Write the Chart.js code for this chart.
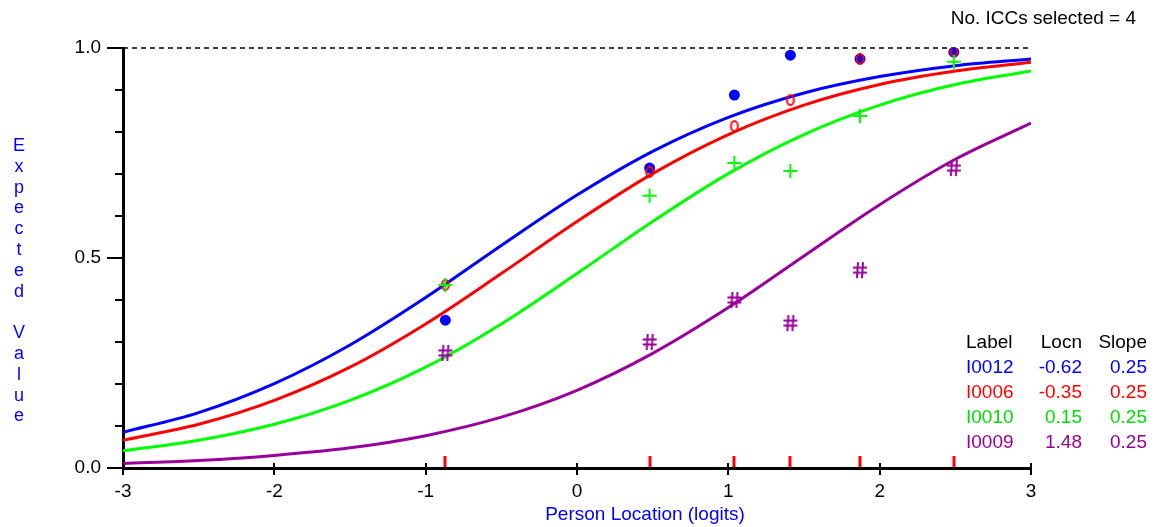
<!DOCTYPE html>
<html>
<head>
<meta charset="utf-8">
<script src="https://cdn.jsdelivr.net/npm/chart.js@4/dist/chart.umd.min.js"></script>
<style>
  html, body { margin: 0; padding: 0; background: #fff; }
  #iccChart { display: block; }
</style>
</head>
<body>
<canvas id="iccChart" width="1155" height="527"></canvas>
<script>
// Person locations (logits) where the curves were read
const thetaGrid = [-3, -2.5, -2, -1.5, -1, -0.5, 0, 0.5, 1, 1.5, 2, 2.5, 3];

// Expected value curves
const curveI0012 = [0.085, 0.132, 0.201, 0.293, 0.406, 0.530, 0.650, 0.754, 0.835, 0.893, 0.932, 0.958, 0.974];
const curveI0006 = [0.066, 0.104, 0.161, 0.240, 0.343, 0.463, 0.587, 0.701, 0.794, 0.864, 0.913, 0.945, 0.966];
const curveI0010 = [0.041, 0.066, 0.104, 0.161, 0.240, 0.343, 0.463, 0.587, 0.701, 0.794, 0.864, 0.913, 0.945];
const curveI0009 = [0.011, 0.018, 0.030, 0.048, 0.077, 0.121, 0.185, 0.273, 0.382, 0.505, 0.627, 0.735, 0.821];

// Class interval locations and observed means
const classLocations = [-0.87, 0.48, 1.04, 1.41, 1.87, 2.49];
const obsI0012 = [0.352, 0.714, 0.888, 0.983, 0.974, 0.990];
const obsI0006 = [0.436, 0.705, 0.814, 0.876, 0.974, 0.993];
const obsI0010 = [0.436, 0.648, 0.726, 0.707, 0.838, 0.967];
const obsI0009 = [0.274, 0.300, 0.400, 0.345, 0.471, 0.714];

// Legend table
const itemLabels = ['I0012', 'I0006', 'I0010', 'I0009'];
const itemLocns = ['-0.62', '-0.35', '0.15', '1.48'];
const itemSlopes = ['0.25', '0.25', '0.25', '0.25'];

const xTicks = [-3, -2, -1, 0, 1, 2, 3];
const yMajor = [0, 0.5, 1];

const BLUE = '#0000FF';
const RED = '#FF0000';
const GREEN = '#00FF00';
const GREEN_TXT = '#00DD00';
const PURPLE = '#990099';
const itemColors = [BLUE, RED, GREEN_TXT, PURPLE];
const FONT = "'Liberation Sans', Arial, sans-serif";

function pairs(xs, ys) {
    return xs.map((x, i) => ({ x: x, y: ys[i] }));
}

function glyph(w, h, draw) {
    const c = document.createElement('canvas');
    c.width = w;
    c.height = h;
    draw(c.getContext('2d'));
    return c;
}

// red "o" marker
const ringMark = glyph(12, 14, g => {
    g.strokeStyle = RED;
    g.lineWidth = 2;
    g.beginPath();
    g.ellipse(6, 7, 3.5, 5, 0, 0, Math.PI * 2);
    g.stroke();
});

// purple "#" marker
const hashMark = glyph(18, 20, g => {
    g.strokeStyle = PURPLE;
    g.lineWidth = 2;
    g.beginPath();
    g.moveTo(7, 2); g.lineTo(6, 18);
    g.moveTo(12, 2); g.lineTo(11, 18);
    g.moveTo(2, 7.5); g.lineTo(16, 7.5);
    g.moveTo(2, 12.5); g.lineTo(16, 12.5);
    g.stroke();
});

function curve(data, color, order) {
    return {
        type: 'line',
        data: pairs(thetaGrid, data),
        borderColor: color,
        borderWidth: 3,
        pointRadius: 0,
        fill: false,
        cubicInterpolationMode: 'monotone',
        order: order
    };
}

// axis decorations, legend table and labels
const decorPlugin = {
    id: 'decor',
    beforeDatasetsDraw(chart) {
        const ctx = chart.ctx;
        const x = chart.scales.x, y = chart.scales.y;
        const area = chart.chartArea;
        ctx.save();
        ctx.strokeStyle = '#000';
        ctx.lineWidth = 1.5;
        ctx.setLineDash([5, 4]);
        ctx.beginPath();
        ctx.moveTo(area.left, y.getPixelForValue(1));
        ctx.lineTo(area.right, y.getPixelForValue(1));
        ctx.stroke();
        ctx.restore();
    },
    afterDraw(chart) {
        const ctx = chart.ctx;
        const x = chart.scales.x, y = chart.scales.y;
        const area = chart.chartArea;
        ctx.save();

        // y ticks
        ctx.strokeStyle = '#000';
        ctx.lineWidth = 2;
        for (let i = 0; i <= 10; i++) {
            const v = i / 10;
            const py = Math.round(y.getPixelForValue(v));
            const len = (i % 5 === 0) ? 16 : 8;
            ctx.beginPath();
            ctx.moveTo(area.left - len, py);
            ctx.lineTo(area.left, py);
            ctx.stroke();
        }
        // x ticks
        xTicks.forEach(v => {
            const px = Math.round(x.getPixelForValue(v));
            ctx.beginPath();
            ctx.moveTo(px, area.bottom - 5);
            ctx.lineTo(px, area.bottom + 7);
            ctx.stroke();
        });
        // class interval markers
        ctx.strokeStyle = RED;
        ctx.lineWidth = 3;
        classLocations.forEach(v => {
            const px = Math.round(x.getPixelForValue(v));
            ctx.beginPath();
            ctx.moveTo(px, area.bottom - 12);
            ctx.lineTo(px, area.bottom - 1);
            ctx.stroke();
        });

        // y axis title, one letter per line
        ctx.fillStyle = BLUE;
        ctx.font = '18px ' + FONT;
        ctx.textAlign = 'center';
        ctx.textBaseline = 'middle';
        const title = 'Expected Value';
        for (let i = 0; i < title.length; i++) {
            ctx.fillText(title[i], 19, 146 + i * 20.8);
        }

        // x axis title
        ctx.font = '19px ' + FONT;
        ctx.fillText('Person Location (logits)', 645, 515);

        // top right note
        ctx.fillStyle = '#000';
        ctx.textAlign = 'right';
        ctx.fillText('No. ICCs selected = 4', 1136, 19);

        // legend table
        ctx.textAlign = 'left';
        ctx.fillText('Label', 966, 343);
        ctx.textAlign = 'right';
        ctx.fillText('Locn', 1082, 343);
        ctx.fillText('Slope', 1147, 343);
        itemLabels.forEach((lab, i) => {
            const ry = 368 + i * 25;
            ctx.fillStyle = itemColors[i];
            ctx.textAlign = 'left';
            ctx.fillText(lab, 966, ry);
            ctx.textAlign = 'right';
            ctx.fillText(itemLocns[i], 1082, ry);
            ctx.fillText(itemSlopes[i], 1147, ry);
        });
        ctx.restore();
    }
};

const ctx = document.getElementById('iccChart').getContext('2d');
const iccChart = new Chart(ctx, {
    type: 'scatter',
    data: {
        datasets: [
            curve(curveI0009, PURPLE, 8),
            curve(curveI0010, GREEN, 7),
            curve(curveI0006, RED, 6),
            curve(curveI0012, BLUE, 5),
            {
                data: pairs(classLocations, obsI0012),
                pointStyle: 'circle',
                pointRadius: 5.5,
                backgroundColor: BLUE,
                borderWidth: 0,
                order: 4
            },
            {
                data: pairs(classLocations, obsI0006),
                pointStyle: ringMark,
                order: 3
            },
            {
                data: pairs(classLocations, obsI0010),
                pointStyle: 'cross',
                pointRadius: 7,
                borderColor: GREEN,
                borderWidth: 2,
                order: 2
            },
            {
                data: pairs(classLocations, obsI0009),
                pointStyle: hashMark,
                order: 1
            }
        ]
    },
    options: {
        responsive: false,
        animation: false,
        layout: {
            padding: { top: 48, right: 124, left: 0, bottom: 0 }
        },
        plugins: {
            legend: { display: false },
            tooltip: { enabled: false }
        },
        scales: {
            x: {
                type: 'linear',
                min: -3,
                max: 3,
                afterFit(scale) { scale.height = 59; },
                grid: { drawOnChartArea: false, drawTicks: false },
                border: { display: true, color: '#000', width: 3 },
                ticks: {
                    stepSize: 1,
                    padding: 12,
                    color: '#000',
                    font: { family: FONT, size: 19 }
                }
            },
            y: {
                type: 'linear',
                min: 0,
                max: 1,
                afterFit(scale) { scale.width = 123; },
                grid: { drawOnChartArea: false, drawTicks: false },
                border: { display: true, color: '#000', width: 3 },
                ticks: {
                    stepSize: 0.1,
                    autoSkip: false,
                    padding: 22,
                    color: '#000',
                    font: { family: FONT, size: 19 },
                    callback: function(value) {
                        const hit = yMajor.find(m => Math.abs(m - value) < 1e-6);
                        return hit === undefined ? '' : hit.toFixed(1);
                    }
                }
            }
        }
    },
    plugins: [decorPlugin]
});
</script>
</body>
</html>
